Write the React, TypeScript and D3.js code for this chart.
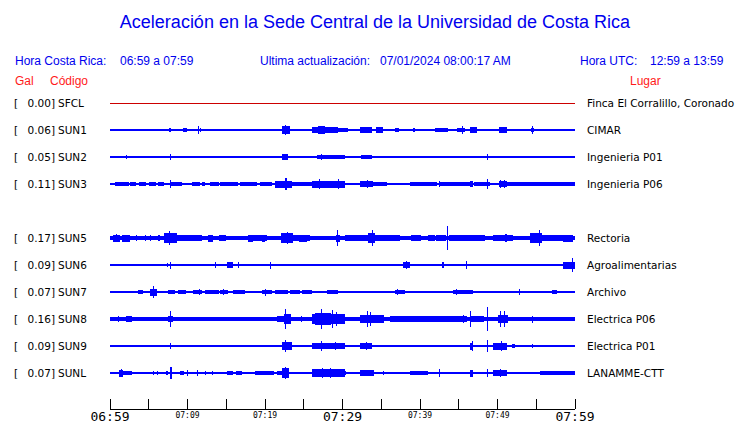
import React from "react";
import * as d3 from "d3";

// ---------- data ----------
const TITLE = "Aceleración en la Sede Central de la Universidad de Costa Rica";
const HORA_CR = "06:59 a 07:59";
const ACTUALIZACION = "07/01/2024 08:00:17 AM";
const HORA_UTC = "12:59 a 13:59";

const codes = ["SFCL", "SUN1", "SUN2", "SUN3", null, "SUN5", "SUN6", "SUN7", "SUN8", "SUN9", "SUNL"];
const galValues = [0.0, 0.06, 0.05, 0.11, null, 0.17, 0.09, 0.07, 0.16, 0.09, 0.07];
const places = [
  "Finca El Corralillo, Coronado", "CIMAR", "Ingenieria P01", "Ingenieria P06", null,
  "Rectoria", "Agroalimentarias", "Archivo", "Electrica P06", "Electrica P01", "LANAMME-CTT",
];
// background (noise) amplitude of each trace, relative units
const baseAmp = [0.3, 0.45, 0.45, 0.9, 0, 1.5, 0.45, 0.45, 1.4, 0.45, 0.6];

// bursts: [start minute, end minute, amplitude]
const sfclBursts: number[][] = [];
const sun1Bursts = [
  [1.3,1.6,1.0],[7.6,7.9,1.5],[8.4,8.4,0.7],[9.4,9.9,1.5],[11.3,11.4,3.2],[11.6,11.6,1.1],[12.9,12.9,0.8],[14.2,14.2,0.8],
  [17.0,17.0,0.6],[18.1,18.1,0.6],[21.9,22.2,0.8],[22.2,23.2,2.6],[22.6,22.7,3.3],[24.5,24.8,1.0],[26.1,26.8,1.9],
  [26.8,27.7,2.6],[27.2,27.3,3.0],[27.7,28.8,1.9],[28.8,29.4,2.2],[29.4,30.7,1.5],[32.3,33.8,1.9],[34.3,35.2,2.0],
  [36.8,37.3,1.5],[39.1,39.4,1.3],[39.7,41.3,0.8],[41.9,43.6,1.3],[43.9,44.5,0.8],[44.8,45.8,1.5],[45.4,45.5,3.2],
  [46.5,47.4,2.2],[47.7,48.7,1.0],[49.4,49.9,1.0],[50.2,51.2,1.9],[50.7,50.8,2.2],[51.9,52.3,0.8],[52.7,53.3,0.8],
  [54.3,54.7,1.5],[54.5,54.5,3.2],[56.0,56.5,0.8],[57.2,57.2,0.5],[58.1,58.1,0.5],[58.8,58.8,0.5],
];
const sun2Bursts = [
  [1.4,1.4,0.6],[2.1,2.1,1.2],[7.7,7.9,2.4],[21.6,21.6,0.6],[22.2,23.0,2.2],[24.5,24.5,0.6],[26.2,26.2,1.0],
  [26.7,29.9,1.5],[27.2,27.4,2.2],[29.7,30.3,1.2],[32.4,33.8,1.3],[35.1,35.1,0.6],[39.7,39.7,0.6],[40.9,40.9,0.6],
  [42.6,42.6,1.0],[43.6,43.6,1.0],[44.6,45.0,1.0],[46.4,46.8,1.0],[47.2,47.2,0.7],[47.9,47.9,0.7],[48.6,48.6,2.0],
  [49.5,49.5,0.7],[50.2,51.0,1.0],[51.5,51.5,0.7],[52.0,52.0,0.7],[52.8,52.8,0.7],[54.6,54.6,1.0],
];
const sun3Bursts = [
  [0.6,2.3,1.2],[2.3,2.5,1.6],[2.6,3.4,1.2],[3.8,4.6,1.1],[5.0,5.9,1.2],[6.2,7.0,1.1],[7.7,7.8,3.0],[7.8,9.3,1.2],
  [10.6,11.6,1.2],[11.9,12.3,1.1],[12.9,14.0,1.2],[14.2,16.5,1.2],[16.8,19.0,1.2],[19.3,20.9,1.2],[21.3,23.5,2.5],
  [22.6,22.8,4.0],[23.5,26.0,1.1],[26.0,30.3,2.5],[27.0,27.1,3.3],[29.4,29.5,3.5],[32.3,33.9,2.0],[33.1,33.2,3.2],
  [33.9,35.8,1.2],[35.8,38.5,1.0],[38.7,42.2,1.2],[42.4,42.5,2.0],[42.6,46.5,1.2],[46.5,46.9,2.0],[47.0,49.0,1.2],
  [48.6,48.7,3.5],[50.2,51.2,2.3],[50.3,50.4,3.0],[50.8,50.9,3.0],[51.2,60,1.3],
];
const sun5Bursts = [
  [0.4,1.3,2.5],[0.8,0.9,3.2],[1.3,1.6,1.7],[1.6,2.6,2.5],[3.3,3.4,1.9],[4.5,4.6,1.9],[5.2,5.3,1.9],[6.2,6.4,1.9],
  [7.0,8.7,3.8],[7.6,7.8,5.0],[8.7,9.9,2.0],[9.9,11.9,1.9],[12.6,13.3,2.5],[14.0,15.0,1.9],[17.8,18.5,2.5],
  [18.5,20.2,1.9],[19.6,20.0,2.5],[22.0,23.6,3.5],[22.8,22.9,4.5],[23.6,25.8,2.0],[24.4,25.4,2.5],[29.1,29.7,2.5],
  [29.3,29.4,6.0],[30.3,32.3,1.9],[32.3,33.3,2.2],[33.3,34.2,3.8],[33.8,33.9,5.4],[34.2,37.4,1.8],[36.0,36.2,2.2],
  [38.8,40.1,2.4],[41.0,41.9,1.8],[42.0,43.4,1.9],[43.5,43.6,8.4],[43.7,46.5,2.0],[46.5,48.4,2.4],[49.4,52.0,2.4],
  [51.0,51.2,3.0],[54.2,55.7,3.5],[55.3,55.4,5.9],[55.7,58.5,1.9],[58.5,59.8,2.5],
];
const sun6Bursts = [
  [1.0,1.0,0.8],[1.8,1.9,1.0],[2.3,2.3,0.8],[3.5,3.5,0.8],[4.1,4.3,1.0],[4.9,4.9,0.8],[5.6,6.0,1.0],[7.3,7.4,1.2],
  [7.7,7.8,2.5],[8.5,8.5,0.8],[9.3,10.3,1.0],[10.6,11.0,1.0],[11.9,12.6,1.0],[13.0,13.1,1.0],[13.6,13.7,2.0],
  [15.1,15.9,2.0],[15.5,15.6,2.4],[16.5,16.6,2.0],[17.4,18.3,0.8],[18.5,19.4,1.0],[20.7,20.8,2.5],[22.1,24.1,1.0],
  [25.4,26.2,1.0],[26.8,27.4,1.0],[27.7,28.1,1.0],[28.8,29.4,1.0],[29.7,31.0,1.0],[31.6,32.3,1.0],[32.5,34.6,1.0],
  [35.1,35.5,0.8],[35.7,36.4,1.0],[36.8,37.8,1.0],[37.8,38.7,2.0],[38.2,38.3,2.6],[39.0,40.9,1.0],[41.7,42.6,1.0],
  [42.8,43.1,1.8],[43.6,45.5,1.0],[45.9,46.0,3.0],[46.2,47.1,1.0],[47.4,48.2,1.0],[48.6,49.4,1.0],[50.3,50.5,0.8],
  [51.2,51.6,1.0],[52.6,54.5,1.0],[54.9,55.5,1.0],[55.5,56.2,1.0],[56.4,57.2,1.0],[58.4,60,2.5],[59.6,59.7,5.0],
];
const sun7Bursts = [
  [0.5,0.5,0.6],[1.0,1.0,0.8],[2.1,2.1,0.6],[2.6,2.8,1.0],[3.6,4.3,1.2],[5.2,6.0,2.5],[5.5,5.6,4.0],[7.5,8.4,1.5],
  [8.8,9.8,1.2],[10.7,11.9,1.2],[11.5,11.6,2.0],[12.3,14.0,1.2],[14.2,15.2,1.5],[14.6,14.7,2.0],[15.9,17.4,1.2],
  [17.7,19.1,1.0],[19.6,20.9,1.2],[20.0,20.1,2.5],[21.3,23.0,1.2],[23.2,24.5,1.5],[24.8,26.1,1.2],[26.8,27.5,1.0],
  [28.0,29.4,1.2],[29.7,31.4,1.0],[31.9,32.9,1.0],[33.2,33.5,0.8],[33.8,34.5,1.0],[34.6,36.5,1.0],[36.8,38.1,1.2],
  [37.0,37.1,2.0],[38.3,38.9,0.7],[39.6,43.9,1.0],[44.3,46.8,1.2],[44.7,44.8,1.8],[46.2,46.3,1.5],[46.8,47.7,1.0],
  [48.0,48.6,1.0],[49.0,50.3,1.0],[51.4,52.5,1.0],[52.8,52.9,2.0],[52.9,55.5,1.0],[55.5,58.1,1.0],[57.0,57.7,1.7],
  [58.3,59.6,1.0],
];
const sun8Bursts = [
  [1.0,1.1,1.9],[2.0,2.8,2.0],[7.5,8.1,1.8],[7.7,7.9,5.4],[21.5,22.4,1.9],[22.4,23.4,3.5],[22.6,22.7,6.9],
  [24.6,24.7,2.0],[26.0,30.3,3.3],[26.5,28.5,4.2],[27.2,27.3,7.4],[28.6,28.7,6.4],[29.2,29.3,5.0],[29.7,30.3,2.8],
  [32.3,35.3,3.0],[33.1,33.2,5.4],[33.6,33.7,5.0],[35.3,36.1,1.7],[36.1,37.7,1.9],[37.7,40.0,2.2],[40.0,42.2,1.9],
  [42.2,44.3,1.9],[44.3,46.0,2.2],[45.6,45.7,3.0],[46.4,46.6,6.0],[46.6,48.3,1.9],[48.6,48.7,8.6],[48.7,50.0,1.5],
  [50.0,51.3,2.8],[50.3,50.4,5.4],[50.9,51.0,5.4],[51.3,53.9,1.6],[54.4,54.5,2.5],[56.2,59.7,1.7],
];
const sun9Bursts = [
  [1.0,1.0,0.9],[1.3,1.3,0.9],[1.9,2.0,0.8],[2.3,2.8,1.0],[7.7,7.8,2.0],[20.4,20.4,0.8],[21.5,22.0,1.0],
  [22.2,23.5,3.0],[22.6,22.7,4.4],[24.5,24.6,1.0],[26.1,30.3,2.4],[27.2,27.3,3.5],[29.0,29.1,3.0],[29.7,30.3,1.2],
  [32.3,33.8,2.0],[33.0,33.1,3.0],[34.8,35.2,1.0],[39.1,39.4,0.8],[39.6,43.9,1.0],[44.5,45.5,1.0],[46.5,46.9,2.5],
  [46.7,46.8,3.5],[46.9,48.5,1.0],[48.6,48.7,4.0],[49.4,51.2,2.5],[50.5,50.6,3.5],[51.9,52.3,1.5],[52.8,52.8,0.9],
  [54.5,54.6,1.2],[56.1,56.1,0.6],[57.2,57.2,0.6],[58.3,58.3,0.6],
];
const sunlBursts = [
  [0.6,1.1,1.0],[1.1,1.7,2.5],[1.4,1.5,3.0],[1.7,2.8,1.2],[3.2,3.2,1.0],[3.9,3.9,0.8],[4.7,4.7,0.8],[5.6,5.6,1.2],
  [6.0,6.0,1.2],[7.2,7.5,1.2],[7.7,8.0,4.0],[8.1,8.4,1.0],[9.0,9.5,1.2],[9.9,10.1,2.0],[10.5,10.7,1.0],[11.2,11.4,2.0],
  [12.3,12.3,1.2],[13.2,13.2,1.2],[14.0,14.4,1.0],[15.1,15.9,1.2],[16.3,17.0,1.2],[17.4,18.3,1.0],[18.7,21.1,1.2],
  [21.5,22.2,1.2],[22.2,23.1,3.5],[22.6,22.7,4.2],[23.2,23.9,1.0],[25.2,25.2,0.8],[26.1,30.3,2.8],[27.3,27.4,3.5],
  [28.4,28.5,3.5],[29.5,29.6,3.0],[29.7,30.5,1.2],[31.0,32.3,1.0],[32.3,34.0,1.8],[34.0,34.8,1.0],[35.2,35.2,1.5],
  [35.5,36.3,1.0],[36.8,38.3,1.0],[38.7,40.9,1.2],[40.9,41.0,1.5],[41.7,46.0,1.0],[42.5,42.6,3.0],[46.5,46.9,2.5],
  [46.9,48.6,1.0],[48.6,48.7,3.0],[49.4,51.2,2.2],[50.3,50.4,3.0],[51.2,53.8,1.0],[53.8,55.5,1.0],[55.5,60,1.3],
];
const burstsByRow = [sfclBursts, sun1Bursts, sun2Bursts, sun3Bursts, [], sun5Bursts, sun6Bursts, sun7Bursts, sun8Bursts, sun9Bursts, sunlBursts];

const tickMinutes = d3.range(0, 61, 5);
const labelMinutes = [0, 10, 20, 30, 40, 50, 60];
const tickLabels = ["06:59", "07:09", "07:19", "07:29", "07:39", "07:49", "07:59"];
const majorLabel = [true, false, false, true, false, false, true];

// ---------- layout ----------
const W = 740, H = 423;
const BLUE = "#0000ee";
const RED = "#ff1a1a";
const TRACE = "#0000ff";

export default function App() {
  const x = d3.scaleLinear().domain([0, 60]).range([110, 575]);
  const y = d3.scaleLinear().domain([0, codes.length - 1]).range([103, 373]);
  const amp = d3.scaleLinear().domain([0, 10]).range([0, 14]);
  const axisY = 409;
  const sans = "'Liberation Sans', Arial, sans-serif";
  const dv = "'DejaVu Sans', sans-serif";
  const mono = "'DejaVu Sans Mono', monospace";

  return (
    <svg width={W} height={H} style={{ position: "absolute", left: 0, top: 0, background: "#fff" }}>
      <rect width={W} height={H} fill="#fff" />
      <text x={375} y={28} textAnchor="middle" fontFamily={sans} fontSize={18} fill={BLUE}>{TITLE}</text>

      <g fontFamily={sans} fontSize={12} fill={BLUE}>
        <text x={15} y={65}>Hora Costa Rica:</text>
        <text x={120} y={65}>{HORA_CR}</text>
        <text x={260} y={65}>Ultima actualización:</text>
        <text x={380} y={65}>{ACTUALIZACION}</text>
        <text x={580} y={65}>Hora UTC:</text>
        <text x={650} y={65}>{HORA_UTC}</text>
      </g>
      <g fontFamily={sans} fontSize={12} fill={RED}>
        <text x={15} y={85}>Gal</text>
        <text x={50} y={85}>Código</text>
        <text x={630} y={85}>Lugar</text>
      </g>

      {codes.map((code, i) => {
        if (code === null) return null;
        const cy = y(i);
        const color = i === 0 ? "#cc0000" : TRACE;
        const b = Math.max(0.5, amp(baseAmp[i]));
        const baseTop = i === 0 ? Math.round(cy) : cy - b;
        const baseH = i === 0 ? 1 : 2 * b;
        return (
          <g key={code}>
            <text x={14} y={cy + 4} fontFamily={dv} fontSize={10.5} fill="#000">[</text>
            <text x={55} y={cy + 4} fontFamily={dv} fontSize={10.5} fill="#000" textAnchor="end">
              {(galValues[i] as number).toFixed(2)}]
            </text>
            <text x={58} y={cy + 4} fontFamily={dv} fontSize={10.5} fill="#000">{code}</text>
            <text x={587} y={cy + 4} fontFamily={dv} fontSize={10.5} fill="#000">{places[i]}</text>
            <g fill={color} shapeRendering="crispEdges">
              <rect x={x(0)} width={x(60) - x(0)} y={baseTop} height={baseH} />
              {burstsByRow[i].map((d, k) => {
                const x0 = x(d[0]);
                const w = Math.max(1, x(d[1]) - x0);
                const a = amp(d[2]);
                return <rect key={k} x={x0} width={w} y={cy - a} height={2 * a} />;
              })}
            </g>
          </g>
        );
      })}

      <g stroke="#000" strokeWidth={1} shapeRendering="crispEdges">
        <line x1={x(0)} x2={x(60)} y1={axisY} y2={axisY} />
        {tickMinutes.map((m) => (
          <line key={m} x1={x(m)} x2={x(m)} y1={axisY - 10} y2={axisY} />
        ))}
      </g>
      <g fontFamily={mono} fill="#000" textAnchor="middle">
        {labelMinutes.map((m, i) => (
          <text key={m} x={x(m)} y={majorLabel[i] ? 421 : 418} fontSize={majorLabel[i] ? 13 : 8}>
            {tickLabels[i]}
          </text>
        ))}
      </g>
    </svg>
  );
}
